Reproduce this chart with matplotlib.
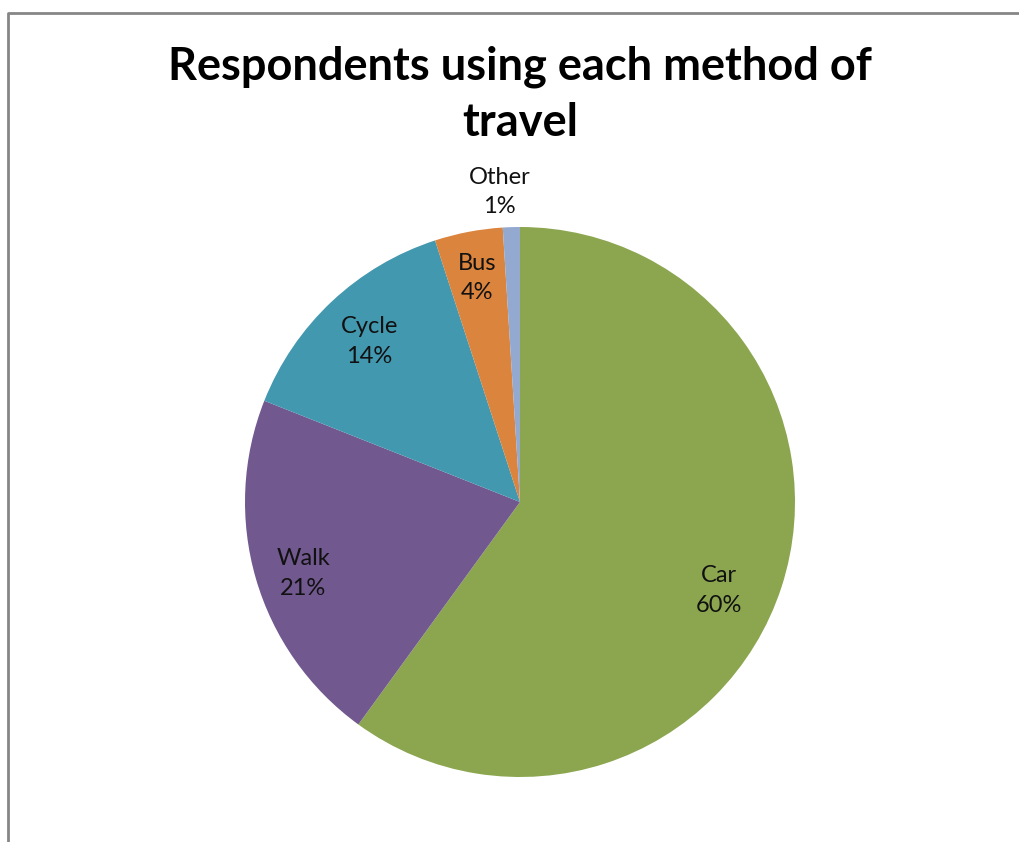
import matplotlib
matplotlib.use("Agg")
import matplotlib.pyplot as plt
from matplotlib.lines import Line2D
import numpy as np

# Survey results: share of respondents by method of travel
methods = ["Car", "Walk", "Cycle", "Bus", "Other"]
shares = [60, 21, 14, 4, 1]
colors = ["#8BA64F", "#71588F", "#4298AF", "#DB843D", "#93A9CF"]

# Label placement relative to each wedge: (distance in radii, angle tweak in degrees)
label_dist = [0.79, 0.83, 0.80, 0.83, 1.13]
label_tweak = [-6, 2, 0, 0, 2]

W, H = 1019, 842
fig = plt.figure(figsize=(W / 100, H / 100), dpi=100)
fig.patch.set_facecolor("white")

cx, cy, r = 520, 502, 275
lim = 1.25
size = 2 * r * lim
ax = fig.add_axes([(cx - size / 2) / W, (H - cy - size / 2) / H, size / W, size / H])
ax.set_xlim(-lim, lim)
ax.set_ylim(-lim, lim)
ax.set_aspect("equal")
ax.axis("off")

wedges, _ = ax.pie(shares, colors=colors, startangle=90, counterclock=False,
                   radius=1.0, wedgeprops=dict(linewidth=0))

for w, name, pct, d, tw in zip(wedges, methods, shares, label_dist, label_tweak):
    mid = np.deg2rad((w.theta1 + w.theta2) / 2 + tw)
    ax.text(d * np.cos(mid), d * np.sin(mid), f"{name}\n{pct}%",
            ha="center", va="center", fontsize=17, family="Lato",
            color="#111111", linespacing=1.5)

fig.text(520 / W, 1 - 95 / H, "Respondents using each method of\ntravel",
         ha="center", va="center", fontsize=32.5, fontweight="bold",
         family="Lato", linespacing=1.4)

# Chart frame (left and top edges)
frame = Line2D([8 / W, 8 / W, 1018 / W], [0, 1 - 13 / H, 1 - 13 / H],
               transform=fig.transFigure, color="#868686", linewidth=2)
fig.add_artist(frame)

fig.savefig("out.png", dpi=100, facecolor="white")
